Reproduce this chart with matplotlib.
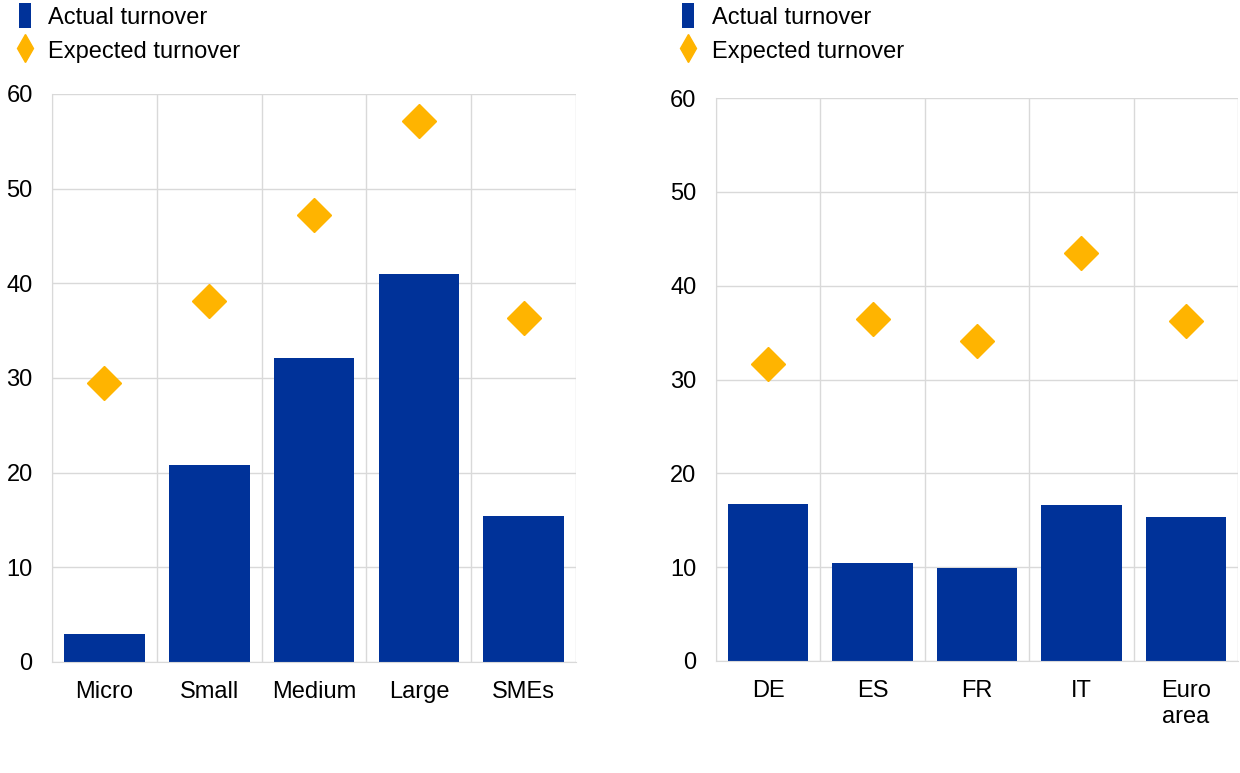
import matplotlib.pyplot as plt
from matplotlib.patches import Patch
from matplotlib.lines import Line2D
import numpy as np

plt.rcParams['font.family'] = ['Liberation Sans', 'DejaVu Sans']

# firm size panel
size_labels = ["Micro", "Small", "Medium", "Large", "SMEs"]
size_actual = [3.0, 20.8, 32.1, 41.0, 15.4]
size_expected = [29.5, 38.1, 47.2, 57.1, 36.3]

# country panel
country_labels = ["DE", "ES", "FR", "IT", "Euro\narea"]
country_actual = [16.7, 10.4, 9.9, 16.6, 15.3]
country_expected = [31.7, 36.4, 34.1, 43.5, 36.2]

BLUE = "#003299"
YELLOW = "#FFB400"
GRID = "#d9d9d9"
FS = 17

fig = plt.figure(figsize=(12.4, 7.73), dpi=100)
ax1 = fig.add_axes([0.042, 0.1436, 0.4226, 0.7348])
ax2 = fig.add_axes([0.5774, 0.1449, 0.421, 0.7283])


def draw_panel(ax, labels, actual, expected, legend_x):
    x = np.arange(len(labels))
    ax.bar(x, actual, width=0.77, color=BLUE, zorder=2)
    ax.plot(x, expected, linestyle="none", marker="D", markersize=17,
            color=YELLOW, zorder=3)
    ax.set_xlim(-0.5, len(labels) - 0.5)
    ax.set_ylim(0, 60)
    ax.set_yticks(range(0, 61, 10))
    ax.set_xticks(x)
    ax.set_xticklabels(labels, fontsize=FS, linespacing=1.2)
    ax.tick_params(axis="y", labelsize=FS, length=0, pad=14)
    ax.tick_params(axis="x", which="both", length=0, pad=14)
    # vertical separators between categories
    ax.set_xticks(np.arange(-0.5, len(labels), 1), minor=True)
    ax.grid(axis="x", which="minor", color=GRID, linewidth=1, zorder=0)
    ax.grid(axis="y", which="major", color=GRID, linewidth=1, zorder=0)
    for side in ["top", "right"]:
        ax.spines[side].set_visible(False)
    for side in ["left", "bottom"]:
        ax.spines[side].set_color(GRID)
    handles = [
        Patch(facecolor=BLUE, edgecolor="none"),
        Line2D([], [], linestyle="none", marker="d", markersize=14,
               color=YELLOW),
    ]
    fig.legend(handles, ["Actual turnover", "Expected turnover"],
               loc="upper left", bbox_to_anchor=(legend_x, 1.023),
               frameon=False, fontsize=FS, handlelength=0.5,
               handleheight=1.2, handletextpad=0.75, labelspacing=0.4)


draw_panel(ax1, size_labels, size_actual, size_expected, -0.002)
draw_panel(ax2, country_labels, country_actual, country_expected, 0.533)

fig.savefig("out.png", dpi=100)
